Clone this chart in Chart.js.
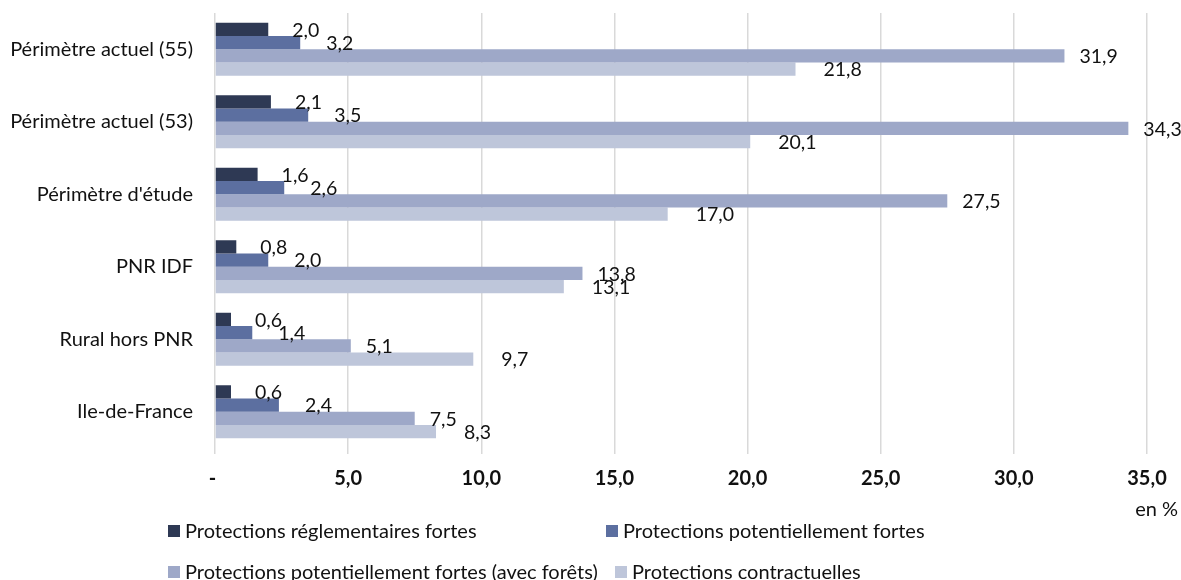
<!DOCTYPE html>
<html>
<head>
<meta charset="utf-8">
<script src="https://cdn.jsdelivr.net/npm/chart.js@4"></script>
<style>
html,body{margin:0;padding:0;background:#fff;}
#wrap{width:1181px;height:580px;}
</style>
</head>
<body>
<div id="wrap"><canvas id="c" width="1181" height="580"></canvas></div>
<script>
const categories = ["Périmètre actuel (55)", "Périmètre actuel (53)", "Périmètre d'étude", "PNR IDF", "Rural hors PNR", "Ile-de-France"];
const seriesNames = ["Protections réglementaires fortes", "Protections potentiellement fortes", "Protections potentiellement fortes (avec forêts)", "Protections contractuelles"];
const reglementairesFortes = [2.0, 2.1, 1.6, 0.8, 0.6, 0.6];
const potentiellementFortes = [3.2, 3.5, 2.6, 2.0, 1.4, 2.4];
const avecForets = [31.9, 34.3, 27.5, 13.8, 5.1, 7.5];
const contractuelles = [21.8, 20.1, 17.0, 13.1, 9.7, 8.3];
const xTicks = [0, 5, 10, 15, 20, 25, 30, 35];
const unitLabel = "en %";

const colors = ["#2e3954", "#5c6fa0", "#9ea8c8", "#bec6da"];
const labelOffsets = [24, 26, 15, 28];
const FONT = "Lato, 'Liberation Sans', sans-serif";
const fmt = v => v.toFixed(1).replace('.', ',');

const seriesValues = [reglementairesFortes, potentiellementFortes, avecForets, contractuelles];

const labelPlugin = {
  id: 'barLabels',
  afterDatasetsDraw(chart) {
    const ctx = chart.ctx;
    ctx.save();
    ctx.font = "19.5px " + FONT;
    ctx.fillStyle = "#111";
    ctx.textAlign = "left";
    ctx.textBaseline = "middle";
    chart.data.datasets.forEach((ds, di) => {
      const meta = chart.getDatasetMeta(di);
      meta.data.forEach((el, i) => {
        ctx.fillText(fmt(ds.data[i]), el.x + labelOffsets[di], el.y + 1);
      });
    });
    ctx.restore();
  }
};

const legendPlugin = {
  id: 'customLegend',
  afterDraw(chart) {
    const ctx = chart.ctx;
    const pos = [[168, 531], [606, 531], [168, 572], [615, 572]];
    ctx.save();
    ctx.font = "20px " + FONT;
    ctx.textBaseline = "middle";
    ctx.textAlign = "left";
    chart.data.datasets.forEach((ds, di) => {
      const [x, y] = pos[di];
      ctx.fillStyle = ds.backgroundColor;
      ctx.fillRect(x, y - 6, 12, 12);
      ctx.fillStyle = "#111";
      ctx.fillText(ds.label, x + 17, y + 1);
    });
    ctx.textAlign = "right";
    ctx.fillText(unitLabel, 1178, 510);
    ctx.restore();
  }
};

new Chart(document.getElementById('c'), {
  type: 'bar',
  data: {
    labels: categories,
    datasets: seriesNames.map((n, i) => ({
      label: n,
      data: seriesValues[i],
      backgroundColor: colors[i],
      borderWidth: 0,
      categoryPercentage: 0.731,
      barPercentage: 1.0
    }))
  },
  options: {
    indexAxis: 'y',
    responsive: false,
    animation: false,
    devicePixelRatio: 1,
    layout: { padding: { left: 0, top: 13, right: 34, bottom: 92 } },
    plugins: {
      legend: { display: false },
      tooltip: { enabled: false }
    },
    scales: {
      x: {
        min: 0, max: 35,
        afterBuildTicks: s => { s.ticks = xTicks.map(v => ({ value: v })); },
        afterFit: s => { s.height = 40; },
        grid: { color: '#d9d9d9', lineWidth: 1.5, drawTicks: true, tickLength: 6 },
        border: { display: false },
        ticks: {
          padding: 13,
          font: { family: FONT, size: 20, weight: 'bold' },
          color: '#111',
          callback: v => v === 0 ? '- ' : fmt(v)
        }
      },
      y: {
        afterFit: s => { s.width = 215; },
        grid: { display: false, drawTicks: true, tickLength: 22 },
        border: { display: false },
        ticks: {
          padding: 0,
          font: { family: FONT, size: 20 },
          color: '#111'
        }
      }
    }
  },
  plugins: [labelPlugin, legendPlugin]
});
</script>
</body>
</html>
